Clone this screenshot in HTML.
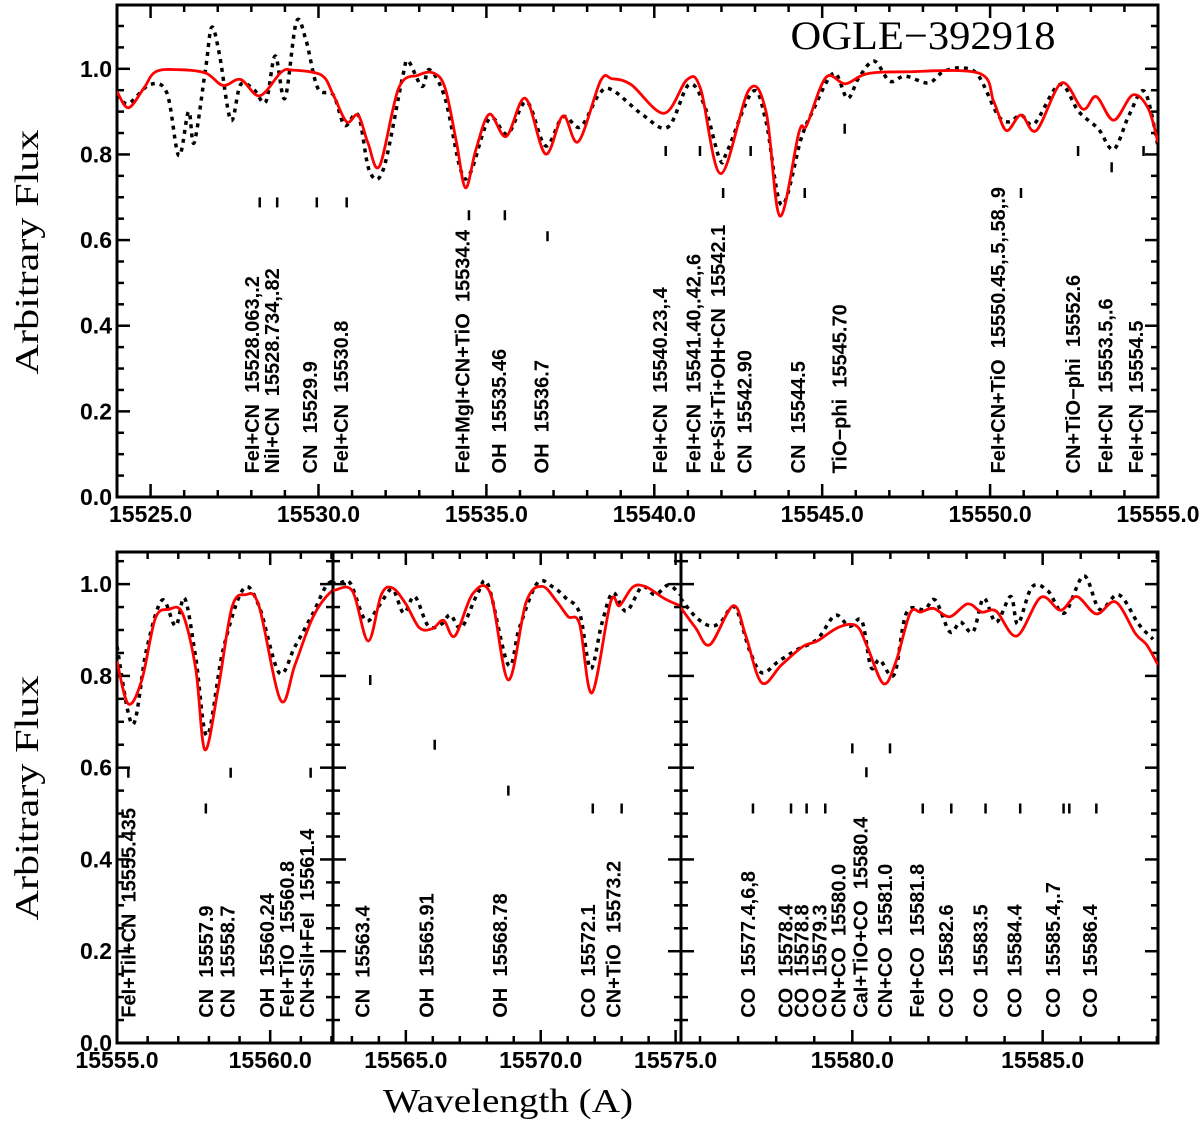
<!DOCTYPE html>
<html><head><meta charset="utf-8"><style>
html,body{margin:0;padding:0;background:#fff;}
svg{display:block;}
text{font-family:"Liberation Sans",sans-serif;white-space:pre;}
</style></head><body>
<svg id="chart" width="1200" height="1123" viewBox="0 0 1200 1123" xmlns="http://www.w3.org/2000/svg">
<g id="layer"></g>
</svg>
<script>
// ---------- DATA ----------
const topModel = [[15524.0,0.947],[15524.34,0.909],[15524.8,0.955],[15525.15,0.993],[15525.84,0.998],[15526.64,0.990],[15527.16,0.961],[15527.68,0.975],[15528.25,0.937],[15528.89,0.992],[15529.23,0.997],[15530.09,0.985],[15530.44,0.939],[15530.84,0.876],[15531.18,0.892],[15531.47,0.828],[15531.82,0.773],[15532.39,0.955],[15532.97,0.985],[15533.43,0.990],[15533.77,0.955],[15534.11,0.828],[15534.38,0.722],[15534.69,0.812],[15535.09,0.894],[15535.59,0.842],[15536.16,0.931],[15536.76,0.801],[15537.28,0.890],[15537.74,0.830],[15538.4,0.972],[15538.74,0.977],[15539.31,0.963],[15540.29,0.896],[15540.98,0.975],[15541.38,0.953],[15541.98,0.755],[15542.82,0.951],[15543.33,0.899],[15543.74,0.656],[15544.31,0.852],[15544.54,0.868],[15545.11,0.980],[15545.69,0.965],[15546.32,0.988],[15547.47,0.993],[15549.66,0.990],[15550.11,0.923],[15550.48,0.856],[15550.92,0.892],[15551.38,0.856],[15552.13,0.967],[15552.76,0.906],[15553.16,0.935],[15553.68,0.880],[15554.25,0.939],[15554.71,0.907],[15555.0,0.828]];
const topObs = [[15524.0,0.939],[15524.34,0.919],[15524.98,0.963],[15525.49,0.943],[15525.84,0.797],[15526.13,0.9],[15526.3,0.828],[15526.64,1.002],[15526.82,1.097],[15527.05,1.034],[15527.39,0.880],[15527.68,0.963],[15528.08,0.951],[15528.43,0.923],[15528.71,1.030],[15529.0,0.931],[15529.34,1.109],[15529.63,1.066],[15529.98,0.955],[15530.44,0.939],[15530.78,0.868],[15531.18,0.892],[15531.52,0.761],[15531.93,0.765],[15532.5,0.979],[15532.67,1.018],[15533.08,0.959],[15533.31,0.998],[15533.77,0.931],[15534.23,0.765],[15534.52,0.757],[15535.09,0.884],[15535.63,0.848],[15536.2,0.923],[15536.76,0.820],[15537.28,0.888],[15537.8,0.864],[15538.35,0.940],[15538.74,0.951],[15539.66,0.892],[15540.41,0.864],[15541.03,0.963],[15541.49,0.915],[15541.95,0.789],[15542.18,0.809],[15542.93,0.947],[15543.33,0.876],[15543.79,0.682],[15544.37,0.836],[15544.71,0.9],[15545.34,0.990],[15545.75,0.931],[15546.09,0.979],[15546.55,1.018],[15547.01,0.971],[15547.47,0.983],[15548.16,0.967],[15548.62,0.994],[15549.2,1.002],[15549.66,0.983],[15550.23,0.892],[15550.57,0.876],[15550.92,0.892],[15551.32,0.872],[15552.07,0.963],[15552.64,0.9],[15553.22,0.860],[15553.68,0.812],[15554.14,0.892],[15554.6,0.947],[15555.0,0.820]];
const botModel = [[15555.0,0.832],[15555.37,0.739],[15555.81,0.791],[15556.25,0.925],[15556.69,0.945],[15557.13,0.937],[15557.57,0.816],[15557.87,0.639],[15558.31,0.775],[15558.75,0.949],[15559.19,0.977],[15559.63,0.953],[15560.34,0.747],[15560.81,0.824],[15561.4,0.929],[15562.01,0.985],[15562.36,0.987],[15563.02,0.985],[15563.6,0.876],[15564.09,0.977],[15564.5,0.992],[15565.0,0.957],[15565.5,0.905],[15565.99,0.903],[15566.4,0.921],[15566.82,0.887],[15567.48,0.979],[15568.14,0.979],[15568.8,0.791],[15569.46,0.961],[15570.05,0.995],[15570.61,0.961],[15571.02,0.929],[15571.44,0.913],[15571.9,0.763],[15572.59,0.961],[15572.92,0.953],[15573.42,0.994],[15573.91,0.994],[15574.57,0.969],[15575.18,0.953],[15575.49,0.949],[15575.88,0.905],[15576.26,0.868],[15576.87,0.953],[15577.2,0.888],[15577.62,0.785],[15578.14,0.824],[15578.7,0.864],[15579.08,0.876],[15579.64,0.906],[15580.11,0.909],[15580.39,0.864],[15580.82,0.783],[15581.15,0.832],[15581.52,0.937],[15581.8,0.939],[15582.13,0.947],[15582.56,0.929],[15583.03,0.957],[15583.4,0.939],[15583.78,0.941],[15584.32,0.887],[15584.95,0.971],[15585.47,0.943],[15585.89,0.973],[15586.41,0.935],[15586.92,0.961],[15587.44,0.892],[15587.73,0.868],[15588.03,0.824]];
const botObs = [[15555.0,0.864],[15555.51,0.694],[15555.96,0.856],[15556.47,0.965],[15556.91,0.909],[15557.21,0.969],[15557.57,0.840],[15557.94,0.670],[15558.46,0.856],[15559.12,0.989],[15559.63,0.953],[15560.29,0.807],[15560.81,0.864],[15561.4,0.937],[15561.91,1.002],[15562.52,1.002],[15562.94,1.002],[15563.51,0.921],[15564.01,0.953],[15564.5,0.989],[15564.92,0.937],[15565.33,0.973],[15565.83,0.909],[15566.32,0.913],[15566.65,0.933],[15567.06,0.905],[15567.64,0.977],[15568.05,0.998],[15568.8,0.824],[15569.21,0.905],[15569.87,1.002],[15570.45,0.994],[15570.94,0.969],[15571.44,0.937],[15571.85,0.816],[15572.26,0.913],[15572.67,0.981],[15573.17,0.941],[15573.75,0.994],[15574.24,0.977],[15574.74,0.998],[15575.18,0.977],[15575.49,0.969],[15575.88,0.929],[15576.26,0.909],[15576.54,0.917],[15576.92,0.949],[15577.3,0.856],[15577.62,0.807],[15578.05,0.831],[15578.52,0.856],[15579.08,0.880],[15579.55,0.932],[15579.92,0.908],[15580.25,0.920],[15580.49,0.819],[15580.72,0.835],[15581.1,0.803],[15581.42,0.937],[15581.9,0.945],[15582.18,0.965],[15582.56,0.896],[15582.84,0.917],[15583.17,0.896],[15583.45,0.969],[15583.78,0.917],[15584.16,0.973],[15584.35,0.913],[15584.72,0.994],[15585.14,0.985],[15585.57,0.937],[15586.08,1.018],[15586.5,0.945],[15587.0,0.977],[15587.52,0.913],[15587.9,0.880]];
const topMarks = [[15528.25,0.688],[15528.77,0.688],[15529.95,0.688],[15530.84,0.688],[15534.48,0.658],[15535.55,0.658],[15536.82,0.609],[15540.34,0.808],[15541.36,0.808],[15542.05,0.71],[15542.87,0.808],[15544.48,0.71],[15545.67,0.86],[15550.92,0.71],[15552.62,0.808],[15553.62,0.77],[15554.57,0.808]];
const botMarks = [[15555.37,0.589],[15557.9,0.511],[15558.71,0.589],[15561.32,0.589],[15563.68,0.791],[15566.07,0.65],[15568.8,0.55],[15571.93,0.511],[15573.0,0.511],[15580.0,0.642],[15580.99,0.642],[15580.37,0.59],[15577.39,0.511],[15578.39,0.511],[15578.8,0.511],[15579.29,0.511],[15581.85,0.511],[15582.6,0.511],[15583.5,0.511],[15584.41,0.511],[15585.55,0.511],[15585.7,0.511],[15586.41,0.511]];
const topLabels = [[15528.02,"FeI+CN  15528.063,.2"],[15528.62,"NiI+CN  15528.734,.82"],[15529.75,"CN  15529.9"],[15530.67,"FeI+CN  15530.8"],[15534.29,"FeI+MgI+CN+TiO  15534.4"],[15535.38,"OH  15535.46"],[15536.64,"OH  15536.7"],[15540.17,"FeI+CN  15540.23,.4"],[15541.17,"FeI+CN  15541.40,.42,.6"],[15541.9,"Fe+Si+Ti+OH+CN  15542.1"],[15542.68,"CN  15542.90"],[15544.28,"CN  15544.5"],[15545.52,"TiO−phi  15545.70"],[15550.23,"FeI+CN+TiO  15550.45,.5,.58,.9"],[15552.47,"CN+TiO−phi  15552.6"],[15553.43,"FeI+CN  15553.5,.6"],[15554.34,"FeI+CN  15554.5"]];
const botLabels = [[15555.37,"FeI+TiI+CN  15555.435"],[15557.9,"CN  15557.9"],[15558.6,"CN  15558.7"],[15559.9,"OH  15560.24"],[15560.55,"FeI+TiO  15560.8"],[15561.2,"CN+SiI+FeI  15561.4"],[15563.4,"CN  15563.4"],[15565.77,"OH  15565.91"],[15568.5,"OH  15568.78"],[15571.75,"CO  15572.1"],[15572.7,"CN+TiO  15573.2"],[15577.26,"CO  15577.4,6,8"],[15578.25,"CO  15578.4"],[15578.67,"CO  15578.8"],[15579.14,"CO  15579.3"],[15579.64,"CN+CO  15580.0"],[15580.22,"CaI+TiO+CO  15580.4"],[15580.86,"CN+CO  15581.0"],[15581.7,"FeI+CO  15581.8"],[15582.46,"CO  15582.6"],[15583.37,"CO  15583.5"],[15584.26,"CO  15584.4"],[15585.27,"CO  15585.4,.7"],[15586.25,"CO  15586.4"]];
const yTickLabels = ["0.0","0.2","0.4","0.6","0.8","1.0"];
const topXTicks = [15525,15530,15535,15540,15545,15550,15555];
const p1XTicks = [15555,15560];
const p2XTicks = [15565,15570,15575];
const p3XTicks = [15580,15585];

// ---------- DRAW ----------
const NS = "http://www.w3.org/2000/svg";
const root = document.getElementById('layer');
function el(tag, attrs, parent){ const e=document.createElementNS(NS,tag); for(const k in attrs) e.setAttribute(k,attrs[k]); (parent||root).appendChild(e); return e; }
function smoothPath(pts){
  if(pts.length<2) return "";
  let d="M"+pts[0][0].toFixed(1)+","+pts[0][1].toFixed(1);
  for(let i=0;i<pts.length-1;i++){
    const p0=pts[i-1]||pts[i], p1=pts[i], p2=pts[i+1], p3=pts[i+2]||p2;
    const c1=[p1[0]+(p2[0]-p0[0])/6, p1[1]+(p2[1]-p0[1])/6];
    const c2=[p2[0]-(p3[0]-p1[0])/6, p2[1]-(p3[1]-p1[1])/6];
    d+=" C"+c1[0].toFixed(1)+","+c1[1].toFixed(1)+" "+c2[0].toFixed(1)+","+c2[1].toFixed(1)+" "+p2[0].toFixed(1)+","+p2[1].toFixed(1);
  }
  return d;
}
let clipId=0;
function panel(name, px0, px1, py0, py1, wmin, wmax, fmax, xTicks, showY, model, obs, marks, labels){
  const g = el('g',{});
  
  
  const xs = w => px0 + (w-wmin)/(wmax-wmin)*(px1-px0);
  const ys = f => py1 - f/fmax*(py1-py0);
  const cid = 'clip'+(clipId++);
  const cp = el('clipPath',{id:cid},g); el('rect',{x:px0,y:py0,width:px1-px0,height:py1-py0},cp);
  const tk = el('g',{stroke:'#000','stroke-width':2.5},g);
  
  
  for(let w=Math.ceil(wmin); w<=wmax+1e-6; w++){
    const major = (Math.round(w)%5===0); const L = major?13:7; const x=xs(w);
    el('line',{x1:x,y1:py1,x2:x,y2:py1-L},tk); el('line',{x1:x,y1:py0,x2:x,y2:py0+L},tk);
  }
  for(let i=0;i*0.05<=fmax+1e-6;i++){
    const f=i*0.05; const major=(i%4===0); const L=major?13:7; const y=ys(f);
    el('line',{x1:px0,y1:y,x2:px0+L,y2:y},tk); el('line',{x1:px1,y1:y,x2:px1-L,y2:y},tk);
  }
  const fr = el('rect',{x:px0,y:py0,width:px1-px0,height:py1-py0,fill:'none',stroke:'#000','stroke-width':3},g);
  
  
  xTicks.forEach(w=>{
    const t = el('text',{x:xs(w),y:py1+25,'text-anchor':'middle','font-size':23,'font-weight':'bold'},g);
    t.textContent = w.toFixed(1);
    
    
  });
  if(showY){
    yTickLabels.forEach(s=>{
      const t = el('text',{x:px0-5,y:ys(parseFloat(s))+8,'text-anchor':'end','font-size':23,'font-weight':'bold'},g);
      t.textContent = s;
      
      
    });
  }
  marks.filter(m=>m[0]>=wmin&&m[0]<=wmax).forEach(m=>{
    const l = el('line',{x1:xs(m[0]),x2:xs(m[0]),y1:ys(m[1])-5,y2:ys(m[1])+5,stroke:'#000','stroke-width':2.5},g);
    
    
  });
  labels.filter(m=>m[0]>=wmin-0.3&&m[0]<=wmax).forEach(m=>{
    const x = xs(m[0])+7, y = ys(0.055);
    const t = el('text',{x:x,y:y,'font-size':20,'font-weight':'bold',transform:'rotate(-90 '+x+' '+y+')'},g);
    t.textContent = m[1];
    
    
  });
  const sel = arr => { const out=[]; for(let i=0;i<arr.length;i++){ const w=arr[i][0]; const prevIn = i>0 && arr[i-1][0]>=wmin && arr[i-1][0]<=wmax; const nextIn = i<arr.length-1 && arr[i+1][0]>=wmin && arr[i+1][0]<=wmax; if((w>=wmin&&w<=wmax)||prevIn||nextIn) out.push([xs(w),ys(arr[i][1])]); } return out; };
  const ob = el('path',{d:smoothPath(sel(obs)),fill:'none',stroke:'#000','stroke-width':3.5,'stroke-dasharray':'4 5','clip-path':'url(#'+cid+')'},g);
  
  
  const md = el('path',{d:smoothPath(sel(model)),fill:'none',stroke:'#ff0000','stroke-width':2.8,'clip-path':'url(#'+cid+')'},g);
  
  
}
panel('top-panel',117,1158,5,497,15524,15555,1.149,topXTicks,true,topModel,topObs,topMarks,topLabels);
panel('bottom-panel-1',117,333,552,1043,15555,15562.05,1.07,p1XTicks,true,botModel,botObs,botMarks,botLabels);
panel('bottom-panel-2',333,681,552,1043,15562.3,15575.2,1.07,p2XTicks,false,botModel,botObs,botMarks,botLabels);
panel('bottom-panel-3',681,1158,552,1043,15575.5,15588.03,1.07,p3XTicks,false,botModel,botObs,botMarks,botLabels);

function title(txt,x,y,size,len,rot,name){
  const t = el('text',{x:x,y:y,'font-size':size,'text-anchor':'middle',textLength:len,lengthAdjust:'spacingAndGlyphs',style:'font-family:"Liberation Serif",serif'});
  if(rot) t.setAttribute('transform','rotate(-90 '+x+' '+y+')');
  t.textContent = txt;
  
  
}
title('Arbitrary Flux',38,252,34,245,true,'y-axis-title-top');
title('Arbitrary Flux',38,798,34,245,true,'y-axis-title-bottom');
title('Wavelength (A)',508,1112,34,250,false,'x-axis-title');
title('OGLE−392918',923,49,40,265,false,'star-name-title');
</script>
</body></html>
